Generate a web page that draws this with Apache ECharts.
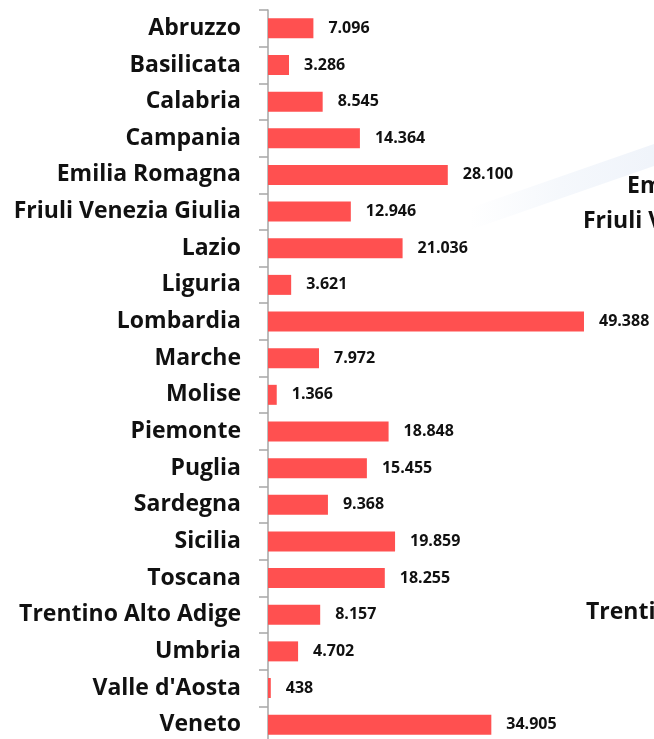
<!DOCTYPE html>
<html>
<head>
<meta charset="utf-8">
<script src="https://cdn.jsdelivr.net/npm/echarts@6/dist/echarts.min.js"></script>
<style>
  html, body { margin: 0; padding: 0; background: #fff; overflow: hidden; }
  /* il grafico originale è tagliato in basso: il contenitore è un po' più alto della finestra */
  #chart { width: 654px; height: 746px; }
</style>
</head>
<body>
<div id="chart"></div>
<script>
// regioni e valori
const regioni = [
  "Abruzzo", "Basilicata", "Calabria", "Campania", "Emilia Romagna",
  "Friuli Venezia Giulia", "Lazio", "Liguria", "Lombardia", "Marche",
  "Molise", "Piemonte", "Puglia", "Sardegna", "Sicilia", "Toscana",
  "Trentino Alto Adige", "Umbria", "Valle d'Aosta", "Veneto"
];
const valori = [
  7096, 3286, 8545, 14364, 28100,
  12946, 21036, 3621, 49388, 7972,
  1366, 18848, 15455, 9368, 19859, 18255,
  8157, 4702, 438, 34905
];
// testi del grafico sovrapposto sullo sfondo (tagliati a destra)
const testiSfondo = ["Emilia Romagna", "Friuli Venezia Giulia", "Trentino Alto Adige"];

// separatore delle migliaia all'italiana
const fmt = (v) => String(v).replace(/\B(?=(\d{3})+(?!\d))/g, ".");

const chart = echarts.init(document.getElementById("chart"), null, { renderer: "canvas" });

const font = "'Open Sans', sans-serif";
const ghost = (text, x, y) => ({
  type: "text", x: x, y: y, silent: true,
  style: { text: text, font: "bold 23px " + font, fill: "#111", verticalAlign: "middle" }
});

chart.setOption({
  animation: false,
  backgroundColor: "#fff",
  graphic: [
    {
      type: "polygon",
      silent: true,
      z: -10,
      shape: { points: [[470, 208], [654, 144], [654, 166], [470, 230]] },
      style: {
        fill: new echarts.graphic.LinearGradient(0, 0, 1, 0, [
          { offset: 0, color: "rgba(238,243,250,0)" },
          { offset: 0.5, color: "rgba(238,243,250,0.6)" },
          { offset: 1, color: "rgba(236,241,249,0.8)" }
        ])
      }
    },
    ghost(testiSfondo[0], 627, 186),
    ghost(testiSfondo[1], 583, 221),
    ghost(testiSfondo[2], 586, 612)
  ],
  grid: { left: 268, top: 10, width: 386, height: 733 },
  xAxis: {
    type: "value",
    min: 0,
    max: 60330,
    show: false
  },
  yAxis: {
    type: "category",
    data: regioni,
    inverse: true,
    axisLine: { show: true, lineStyle: { color: "#A6A6A6", width: 1.5 } },
    axisTick: { show: true, length: 9, lineStyle: { color: "#A6A6A6", width: 1.5 } },
    axisLabel: {
      margin: 27,
      color: "#111",
      fontFamily: font,
      fontWeight: "bold",
      fontSize: 23
    }
  },
  series: [{
    type: "bar",
    data: valori,
    barWidth: 20,
    itemStyle: { color: "#FF5050" },
    label: {
      show: true,
      position: "right",
      distance: 15,
      color: "#111",
      fontFamily: font,
      fontWeight: "bold",
      fontSize: 16,
      formatter: (p) => fmt(p.value)
    }
  }]
});
</script>
</body>
</html>
